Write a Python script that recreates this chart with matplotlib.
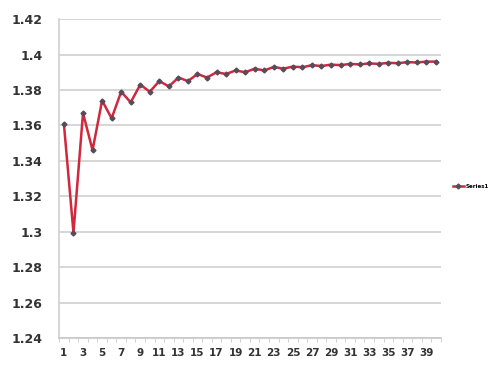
import matplotlib
matplotlib.use("Agg")
import matplotlib.pyplot as plt
from matplotlib.ticker import FixedLocator

categories = list(range(1, 41))
values = [1.3606, 1.2995, 1.3670, 1.3460, 1.3740, 1.3640, 1.3790, 1.3730,
          1.3830, 1.3790, 1.3850, 1.3820, 1.3870, 1.3850, 1.3890, 1.3870,
          1.3900, 1.3890, 1.3910, 1.3900, 1.3920, 1.3910, 1.3930, 1.3920,
          1.3932, 1.3928, 1.3940, 1.3935, 1.3943, 1.3940, 1.3947, 1.3944,
          1.3950, 1.3947, 1.3953, 1.3951, 1.3957, 1.3955, 1.3960, 1.3960]
y_ticks = [1.24, 1.26, 1.28, 1.30, 1.32, 1.34, 1.36, 1.38, 1.40, 1.42]
y_tick_labels = ["1.24", "1.26", "1.28", "1.3", "1.32", "1.34", "1.36", "1.38", "1.4", "1.42"]
x_tick_labels = [str(c) for c in categories if c % 2 == 1]
series_name = "Series1"

fig = plt.figure(figsize=(4.93, 3.67), dpi=100)
ax = fig.add_axes([0.12, 0.079, 0.774, 0.869])

ax.plot(categories, values, color="#d0283c", linewidth=1.8,
        marker="D", markersize=2.5, markerfacecolor="#5a4a5a",
        markeredgecolor="#5a4a5a", label=series_name, zorder=3)

ax.set_xlim(0.5, 40.5)
ax.set_ylim(1.24, 1.42)
ax.set_yticks(y_ticks)
ax.set_yticklabels(y_tick_labels, fontsize=9, fontweight="bold", color="#333333")
ax.set_xticks([c for c in categories if c % 2 == 1])
ax.set_xticklabels(x_tick_labels, fontsize=7.5, fontweight="bold", color="#333333")
ax.xaxis.set_minor_locator(FixedLocator([c + 0.5 for c in range(0, 41)]))
ax.tick_params(axis="x", which="major", length=0, pad=7)
ax.tick_params(axis="x", which="minor", length=3, color="#c8c8c8")
ax.tick_params(axis="y", length=0, pad=12)

ax.grid(axis="y", color="#d6d6d6", linewidth=1.4)
ax.set_axisbelow(True)
for s in ["top", "right"]:
    ax.spines[s].set_visible(False)
ax.spines["left"].set_color("#d0d0d0")
ax.spines["bottom"].set_color("#c8c8c8")
ax.spines["left"].set_linewidth(1.2)
ax.spines["bottom"].set_linewidth(1.2)

leg = ax.legend(loc="center left", bbox_to_anchor=(1.025, 0.475), frameon=False,
                fontsize=4, handlelength=2.0, handletextpad=0.3,
                borderpad=0.2, borderaxespad=0.2)
for t in leg.get_texts():
    t.set_fontweight("bold")

fig.savefig("out.png", dpi=100)
